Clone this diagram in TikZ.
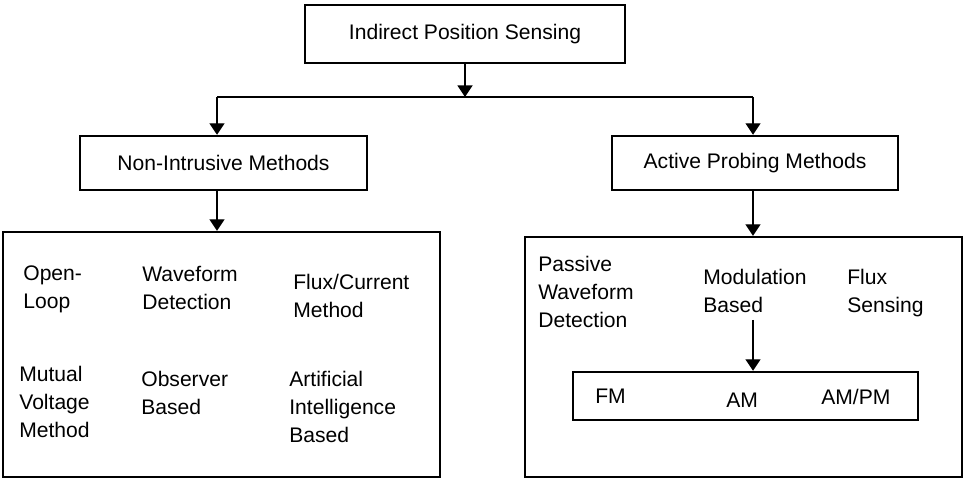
\documentclass[tikz,border=0pt]{standalone}
\usepackage{fontspec}
\setmainfont{Liberation Sans}
\usetikzlibrary{arrows.meta}

\begin{document}
\begin{tikzpicture}[x=0.02cm,y=-0.02cm,
    box/.style={draw,line width=1.4pt,inner sep=0pt,font=\fontsize{12}{15.9}\selectfont},
    lbl/.style={anchor=north west,inner sep=0pt,align=left,font=\fontsize{12}{15.9}\selectfont},
    arr/.style={-{Triangle[length=0.23cm,width=0.3cm]},line width=0.75pt}]
    \useasboundingbox (0,0) rectangle (963,479);
    % Define boxes
    \node[box,minimum width=6.4cm,minimum height=1.16cm] (ips) at (465,34) {Indirect Position Sensing};
    \node[box,minimum width=5.74cm,minimum height=1.08cm] (nim) at (223.5,163) {Non-Intrusive Methods};
    \node[box,minimum width=5.72cm,minimum height=1.08cm] (apm) at (755,163) {Active Probing Methods};
    \node[box,minimum width=8.74cm,minimum height=4.9cm] (nibox) at (221.5,354.5) {};
    \node[box,minimum width=8.74cm,minimum height=4.8cm] (apbox) at (743.5,357) {};
    \node[box,minimum width=6.9cm,minimum height=0.96cm] (modbox) at (745.5,396) {};
    % Define points
    \coordinate (barl) at (217,97);
    \coordinate (barr) at (753,97);
    \coordinate (modtail) at (753,320);
    % Non-intrusive methods
    \node[lbl] (openloop) at (23,265) {Open-\\Loop};
    \node[lbl] (wavedet) at (142,266) {Waveform\\Detection};
    \node[lbl] (fluxcur) at (293,274) {Flux/Current\\Method};
    \node[lbl] (mutual) at (19,366) {Mutual\\Voltage\\Method};
    \node[lbl] (observer) at (141,371) {Observer\\Based};
    \node[lbl] (aibased) at (289,371) {Artificial\\Intelligence\\Based};
    % Active probing methods
    \node[lbl] (passive) at (538,256) {Passive\\Waveform\\Detection};
    \node[lbl] (modul) at (703,269) {Modulation\\Based};
    \node[lbl] (fluxsens) at (847,269) {Flux\\Sensing};
    \node[lbl] (fm) at (595,389) {FM};
    \node[lbl] (am) at (726,393) {AM};
    \node[lbl] (ampm) at (821,389) {AM/PM};
    % Connectors
    \draw[line width=1.7pt] (barl) -- (barr);
    \draw[arr] (ips.south) -- (ips.south |- barl);
    \draw[arr] (barl) -- (barl |- nim.north);
    \draw[arr] (barr) -- (barr |- apm.north);
    \draw[arr] (nim.south -| barl) -- (barl |- nibox.north);
    \draw[arr] (apm.south -| barr) -- (barr |- apbox.north);
    \draw[arr] (modtail) -- (modtail |- modbox.north);
\end{tikzpicture}
\end{document}
